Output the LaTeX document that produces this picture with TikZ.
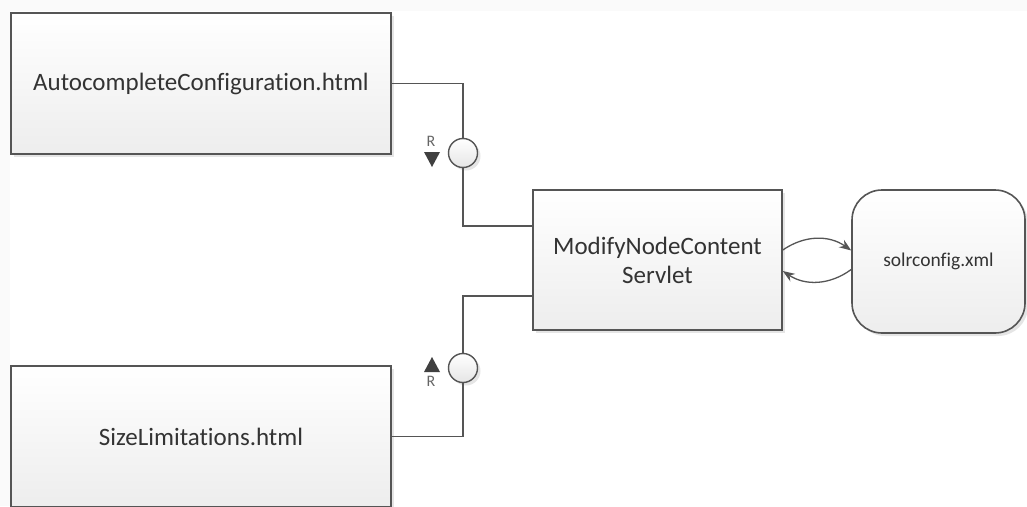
\documentclass[tikz,border=0pt]{standalone}
\usepackage{fontspec}
\setmainfont{Carlito}[Ligatures=NoCommon]
\usetikzlibrary{arrows.meta,shadows}
\definecolor{ln}{HTML}{555555}
\definecolor{tx}{HTML}{333333}
\definecolor{bgg}{HTML}{FAFAFA}
\tikzset{
  shad/.style={drop shadow={shadow xshift=3pt,shadow yshift=-3pt,fill=black,opacity=0.10}},
  box/.style={draw=ln, line width=1.6pt, top color=white, bottom color=black!7,
    inner sep=0pt, text=tx, align=center, font=\fontsize{25}{29}\selectfont, shad},
  filebox/.style={box, minimum width=380pt, minimum height=141pt},
  servbox/.style={box, minimum width=249pt, minimum height=140pt},
  xmlbox/.style={box, rounded corners=30pt, minimum width=173pt, minimum height=143pt,
    font=\fontsize{19.5}{23}\selectfont},
  iface/.style={circle, draw=ln, line width=1.4pt, top color=white, bottom color=black!10,
    minimum size=29pt, inner sep=0pt, shad},
  conn/.style={draw=ln, line width=1.5pt},
  arr/.style={draw=ln, line width=1.3pt, -{Stealth[length=12pt,width=9pt]}},
  rlab/.style={text=black!60, font=\fontsize{16}{16}\selectfont, inner sep=0pt},
  tri/.style={fill=black!75}
}
\begin{document}
\begin{tikzpicture}[x=1pt,y=-1pt]
  \useasboundingbox (0,0) rectangle (1027,506);
  \clip (0,0) rectangle (1027,506);
  \fill[bgg] (0,0) rectangle (1027,506);
  \fill[white] (10,11) rectangle (1027,506);

  \node[filebox] (auto) at (201,83.5) {AutocompleteConfiguration.html};
  \node[filebox] (size) at (201,436.5) {SizeLimitations.html};
  \node[servbox] (serv) at (657.5,260) {ModifyNodeContent\\Servlet};
  \node[xmlbox] (solr) at (938.5,261.5) {solrconfig.xml};

  \node[iface] (c1) at (463,153) {};
  \node[iface] (c2) at (463,368) {};

  \draw[conn] (auto.east) -| (c1.north);
  \draw[conn] (c1.south) |- ([yshift=34pt]serv.west);
  \draw[conn] ([yshift=-36pt]serv.west) -| (c2.north);
  \draw[conn] (c2.south) |- (size.east);

  \node[rlab] (r1) at (431,141) {R};
  \fill[tri] (424,152) -- (440,152) -- (432,167) -- cycle;
  \node[rlab] (r2) at (431,381) {R};
  \fill[tri] (424,372) -- (440,372) -- (432,357) -- cycle;

  \draw[arr] ([yshift=10pt]serv.east) to[bend left=35] ([yshift=11pt]solr.west);
  \draw[arr] ([yshift=-8pt]solr.west) to[bend left=35] ([yshift=-11pt]serv.east);
\end{tikzpicture}
\end{document}
